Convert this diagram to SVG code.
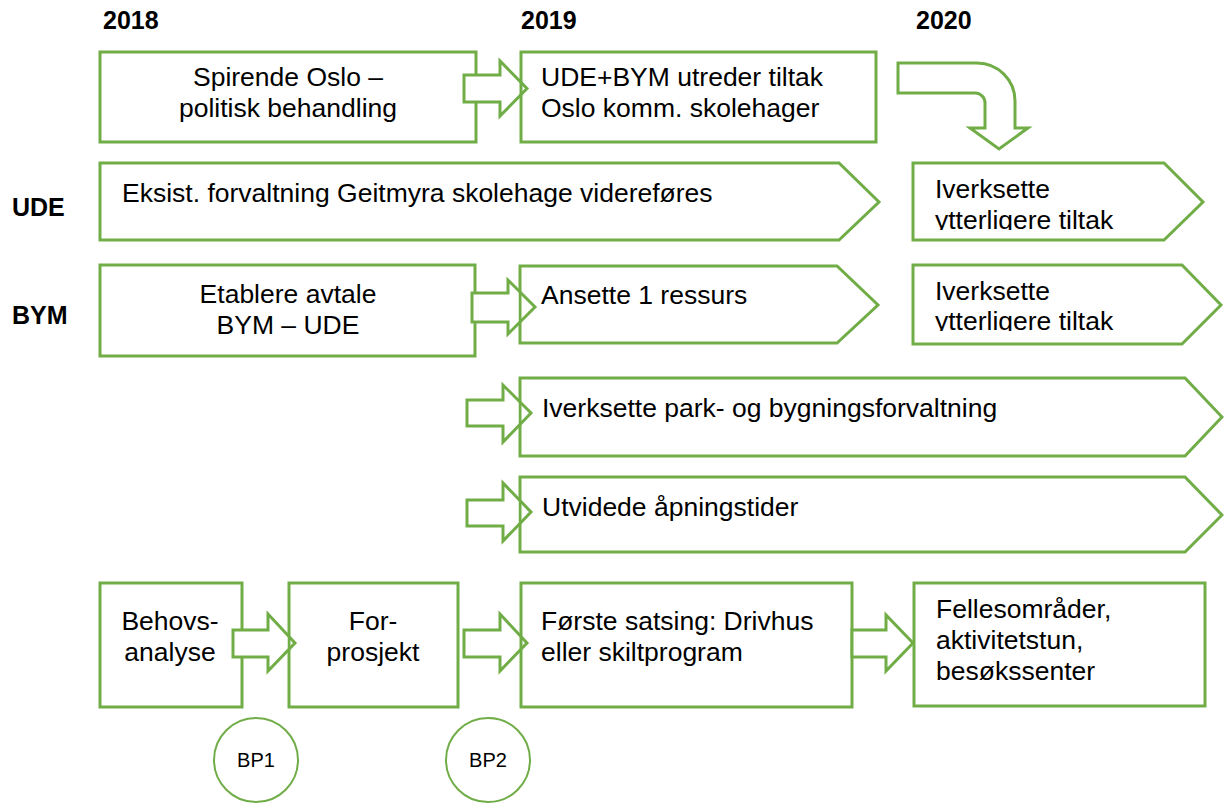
<svg xmlns="http://www.w3.org/2000/svg" xmlns:xlink="http://www.w3.org/1999/xlink" width="1224" height="805" viewBox="0 0 1224 805">
<style>
.b{fill:none;stroke:#70AD47;stroke-width:3;stroke-linejoin:miter}
.t{font-family:"Liberation Sans",Arial,sans-serif;font-size:26.5px;fill:#000}
.c{text-anchor:middle}
.h{font-family:"Liberation Sans",Arial,sans-serif;font-size:25px;font-weight:bold;fill:#000}
.bp{font-family:"Liberation Sans",Arial,sans-serif;font-size:20px;fill:#000;text-anchor:middle}
.af{fill:#fff;stroke:none}
.al{fill:none;stroke:#70AD47;stroke-width:3;stroke-linejoin:miter}
</style>
<defs>
<clipPath id="fc">
<rect x="0" y="0" width="287.5" height="805"/>
<rect x="300" y="0" width="218.5" height="805"/>
<rect x="530" y="0" width="381.5" height="805"/>
</clipPath>
<clipPath id="k1"><rect x="913" y="163" width="300" height="67"/></clipPath>
<clipPath id="k2"><rect x="913" y="265" width="300" height="66"/></clipPath>
<polygon id="p1" points="464,75 500,75 500,61 527,88.5 500,116 500,102 464,102"/>
<polygon id="p2" points="472,293 508,293 508,280 535,307 508,334 508,322 472,322"/>
<polygon id="p3" points="467,400 503,400 503,385 531,413 503,442 503,426 467,426"/>
<polygon id="p4" points="467,500 503,500 503,483 531,512 503,541 503,526 467,526"/>
<polygon id="p5" points="233,630 268,630 268,614 295,643 268,671 268,657 233,657"/>
<polygon id="p6" points="464,630 500,630 500,614 527,643 500,671 500,657 464,657"/>
<polygon id="p7" points="852,630 886,630 886,615 913,643 886,671 886,657 852,657"/>
</defs>
<rect width="1224" height="805" fill="#fff"/>

<g id="labels">
<text class="h" x="103" y="29">2018</text>
<text class="h" x="521" y="29">2019</text>
<text class="h" x="916" y="29">2020</text>
<text class="h" x="12" y="216">UDE</text>
<text class="h" x="12" y="324">BYM</text>
</g>

<g id="n-spirende">
<rect class="b" x="100" y="52" width="376" height="90"/>
<text class="t c" x="288" y="86">Spirende Oslo –</text>
<text class="t c" x="288" y="117">politisk behandling</text>
</g>
<g id="n-udebym">
<rect class="b" x="521" y="52" width="355" height="90"/>
<text class="t" x="541" y="86">UDE+BYM utreder tiltak</text>
<text class="t" x="541" y="117">Oslo komm. skolehager</text>
</g>
<g id="n-eksist">
<polygon class="b" points="100,163 839,163 879,202 839,240 100,240"/>
<text class="t" x="122" y="202">Eksist. forvaltning Geitmyra skolehage videreføres</text>
</g>
<g id="n-ude-iverksette">
<polygon class="b" points="913,163 1164,163 1203,202 1164,240 913,240"/>
<g clip-path="url(#k1)">
<text class="t" x="935" y="198">Iverksette</text>
<text class="t" x="935" y="229">ytterligere tiltak</text>
</g>
</g>
<g id="n-etablere">
<rect class="b" x="100" y="265" width="375" height="91"/>
<text class="t c" x="288" y="303">Etablere avtale</text>
<text class="t c" x="288" y="334">BYM – UDE</text>
</g>
<g id="n-ansette">
<polygon class="b" points="520,266 837,266 878,305 837,343 520,343"/>
<text class="t" x="541" y="304">Ansette 1 ressurs</text>
</g>
<g id="n-bym-iverksette">
<polygon class="b" points="913,265 1182,265 1221,305 1182,344 913,344"/>
<g clip-path="url(#k2)">
<text class="t" x="935" y="300">Iverksette</text>
<text class="t" x="935" y="330">ytterligere tiltak</text>
</g>
</g>
<g id="n-park">
<polygon class="b" points="520,378 1185,378 1222,417 1185,456 520,456"/>
<text class="t" x="542" y="417">Iverksette park- og bygningsforvaltning</text>
</g>
<g id="n-utvidede">
<polygon class="b" points="520,477 1185,477 1222,515 1185,552 520,552"/>
<text class="t" x="542" y="516">Utvidede åpningstider</text>
</g>
<g id="n-behovs">
<rect class="b" x="100" y="583" width="142" height="124"/>
<text class="t c" x="170" y="630">Behovs-</text>
<text class="t c" x="170" y="661">analyse</text>
</g>
<g id="n-for">
<rect class="b" x="289" y="583" width="169" height="124"/>
<text class="t c" x="373" y="630">For-</text>
<text class="t c" x="373" y="661">prosjekt</text>
</g>
<g id="n-forste">
<rect class="b" x="521" y="583" width="331" height="124"/>
<text class="t" x="541" y="630">Første satsing: Drivhus</text>
<text class="t" x="541" y="661">eller skiltprogram</text>
</g>
<g id="n-felles">
<rect class="b" x="914" y="583" width="291" height="123"/>
<text class="t" x="936" y="618">Fellesområder,</text>
<text class="t" x="936" y="649">aktivitetstun,</text>
<text class="t" x="936" y="680">besøkssenter</text>
</g>
<g id="n-bp1">
<circle cx="256" cy="760" r="42" fill="none" stroke="#70AD47" stroke-width="2"/>
<text class="bp" x="256" y="767">BP1</text>
</g>
<g id="n-bp2">
<circle cx="488" cy="760" r="42" fill="none" stroke="#70AD47" stroke-width="2"/>
<text class="bp" x="488" y="767">BP2</text>
</g>

<g id="connectors">
<use xlink:href="#p1" class="af" clip-path="url(#fc)"/><use xlink:href="#p1" class="al"/>
<use xlink:href="#p2" class="af" clip-path="url(#fc)"/><use xlink:href="#p2" class="al"/>
<use xlink:href="#p3" class="af" clip-path="url(#fc)"/><use xlink:href="#p3" class="al"/>
<use xlink:href="#p4" class="af" clip-path="url(#fc)"/><use xlink:href="#p4" class="al"/>
<use xlink:href="#p5" class="af" clip-path="url(#fc)"/><use xlink:href="#p5" class="al"/>
<use xlink:href="#p6" class="af" clip-path="url(#fc)"/><use xlink:href="#p6" class="al"/>
<use xlink:href="#p7" class="af" clip-path="url(#fc)"/><use xlink:href="#p7" class="al"/>
<path class="al" d="M898,63 H977 A38,38 0 0 1 1015,101 V128 H1028 L999,149 L970,128 H985 V103 A10,10 0 0 0 975,93 H898 Z"/>
</g>
</svg>
